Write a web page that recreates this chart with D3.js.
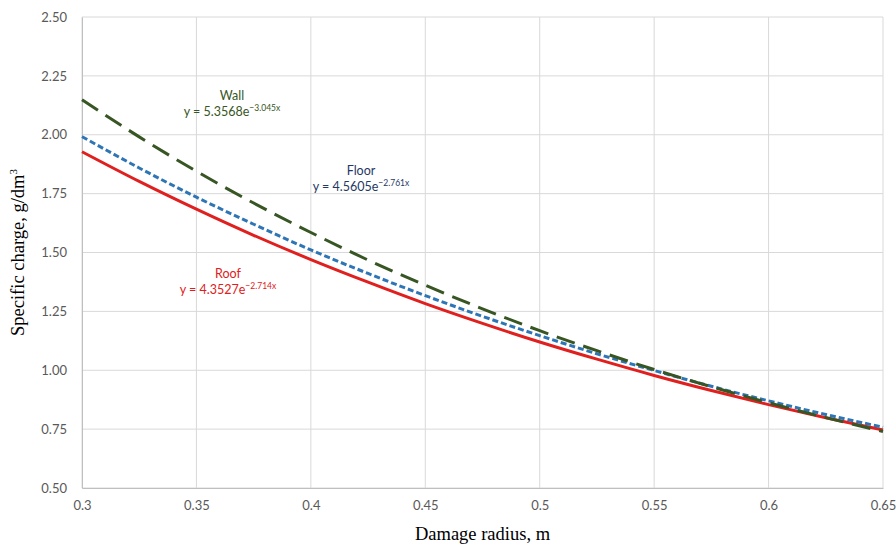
<!DOCTYPE html>
<html>
<head>
<meta charset="utf-8">
<script src="https://cdn.jsdelivr.net/npm/d3@7"></script>
<style>
  body { margin: 0; background: #fff; }
  svg { display: block; }
  .tick text { font-family: Lato, "Open Sans", sans-serif; font-size: 13px; fill: #595959; }
  .lbl { font-family: Lato, "Open Sans", sans-serif; font-size: 12.5px; }
  .title { font-family: "Liberation Serif", "DejaVu Serif", serif; font-size: 18.5px; fill: #000; }
</style>
</head>
<body>
<div class="chart"></div>
<script>
// damage radius, m
const radius = [0.3, 0.325, 0.35, 0.375, 0.4, 0.425, 0.45, 0.475, 0.5, 0.525, 0.55, 0.575, 0.6, 0.625, 0.65];
// specific charge, g/dm3
const wall  = [2.149, 1.991, 1.845, 1.710, 1.585, 1.468, 1.361, 1.261, 1.168, 1.083, 1.003, 0.930, 0.862, 0.799, 0.740];
const floor = [1.992, 1.859, 1.735, 1.620, 1.511, 1.411, 1.317, 1.229, 1.147, 1.070, 0.999, 0.932, 0.870, 0.812, 0.758];
const roof  = [1.928, 1.802, 1.684, 1.573, 1.470, 1.374, 1.283, 1.199, 1.120, 1.047, 0.978, 0.914, 0.854, 0.798, 0.746];

const xTicks = [0.3, 0.35, 0.4, 0.45, 0.5, 0.55, 0.6, 0.65];
const yTicks = [0.5, 0.75, 1.0, 1.25, 1.5, 1.75, 2.0, 2.25, 2.5];

const width = 896, height = 549;
const margin = { top: 17, right: 13, bottom: 61, left: 82 };

const x = d3.scaleLinear().domain([0.3, 0.65]).range([margin.left, width - margin.right]);
const y = d3.scaleLinear().domain([0.5, 2.5]).range([height - margin.bottom, margin.top]);

const svg = d3.select('.chart')
    .append('svg')
        .attr('width', width)
        .attr('height', height);

// grid
svg.append('g')
    .selectAll('line.h')
    .data(yTicks)
    .enter().append('line')
        .attr('x1', x(0.3)).attr('x2', x(0.65))
        .attr('y1', d => y(d)).attr('y2', d => y(d))
        .attr('stroke', '#d9d9d9').attr('stroke-width', 1);

svg.append('g')
    .selectAll('line.v')
    .data(xTicks)
    .enter().append('line')
        .attr('x1', d => x(d)).attr('x2', d => x(d))
        .attr('y1', y(0.5)).attr('y2', y(2.5))
        .attr('stroke', '#d9d9d9').attr('stroke-width', 1);

// axes (labels only)
const xAxis = svg.append('g')
    .attr('transform', `translate(0, ${y(0.5)})`)
    .call(d3.axisBottom(x).tickValues(xTicks).tickSize(0).tickPadding(13).tickFormat(d3.format('')));
xAxis.select('.domain').attr('stroke', '#bfbfbf');

const yAxis = svg.append('g')
    .attr('transform', `translate(${x(0.3)}, 0)`)
    .call(d3.axisLeft(y).tickValues(yTicks).tickSize(0).tickPadding(15).tickFormat(d3.format('.2f')));
yAxis.select('.domain').attr('stroke', '#bfbfbf');

// series
const series = [
    { name: 'Roof',  values: roof,  color: '#e0201f', dash: null },
    { name: 'Floor', values: floor, color: '#2e75b6', dash: '6,3' },
    { name: 'Wall',  values: wall,  color: '#375623', dash: '19,9' }
];

const line = d3.line()
    .x((d, i) => x(radius[i]))
    .y(d => y(d))
    .curve(d3.curveMonotoneX);

svg.append('g')
    .selectAll('path')
    .data(series)
    .enter().append('path')
        .attr('d', d => line(d.values))
        .attr('fill', 'none')
        .attr('stroke', d => d.color)
        .attr('stroke-width', 3)
        .attr('stroke-dasharray', d => d.dash);

// trendline labels
const labels = [
    { name: 'Wall',  a: '5.3568', b: '\u22123.045x', color: '#375623', cx: 232, cy: 100 },
    { name: 'Floor', a: '4.5605', b: '\u22122.761x', color: '#1f3864', cx: 361, cy: 175 },
    { name: 'Roof',  a: '4.3527', b: '\u22122.714x', color: '#e02020', cx: 228, cy: 278 }
];

const lbl = svg.append('g')
    .selectAll('g')
    .data(labels)
    .enter().append('g')
        .attr('class', 'lbl')
        .attr('fill', d => d.color);

lbl.append('text')
    .attr('x', d => d.cx)
    .attr('y', d => d.cy)
    .attr('text-anchor', 'middle')
    .text(d => d.name);

const eq = lbl.append('text')
    .attr('x', d => d.cx)
    .attr('y', d => d.cy + 16)
    .attr('text-anchor', 'middle');
eq.append('tspan').text(d => `y = ${d.a}e`);
eq.append('tspan')
    .attr('dy', -5)
    .attr('font-size', '8.5px')
    .text(d => d.b);

// axis titles
svg.append('text')
    .attr('class', 'title')
    .attr('x', (x(0.3) + x(0.65)) / 2)
    .attr('y', 540)
    .attr('text-anchor', 'middle')
    .text('Damage radius, m');

const yt = svg.append('text')
    .attr('class', 'title')
    .attr('transform', `translate(24, ${(y(0.5) + y(2.5)) / 2}) rotate(-90)`)
    .attr('text-anchor', 'middle');
yt.append('tspan').text('Specific charge, g/dm');
yt.append('tspan').attr('dy', -7).attr('font-size', '11px').text('3');
</script>
</body>
</html>
